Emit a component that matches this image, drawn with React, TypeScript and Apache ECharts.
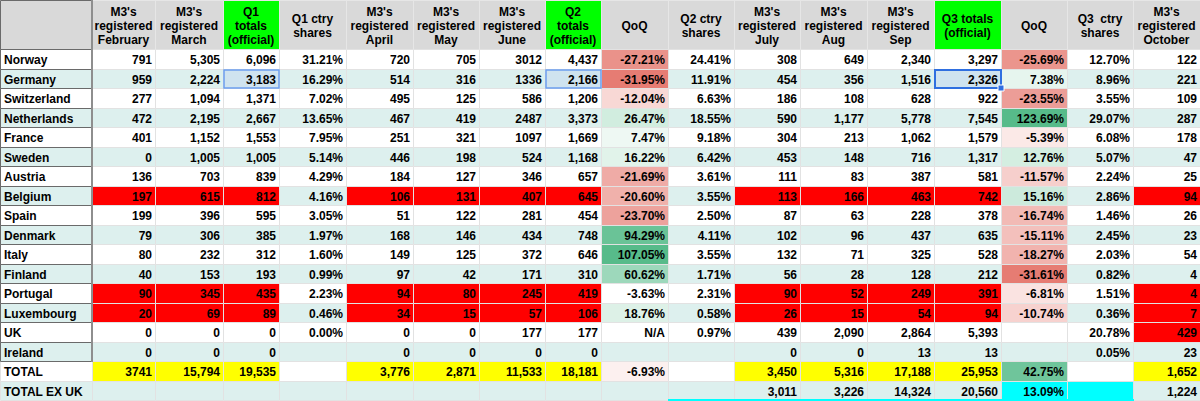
import React, { useEffect, useRef } from "react";
import * as echarts from "echarts";

// ---------- DATA ----------
const headers = [
  "",
  "M3's\nregistered\nFebruary",
  "M3's\nregistered\nMarch",
  "Q1\ntotals\n(official)",
  "Q1 ctry\nshares",
  "M3's\nregistered\nApril",
  "M3's\nregistered\nMay",
  "M3's\nregistered\nJune",
  "Q2\ntotals\n(official)",
  "QoQ",
  "Q2 ctry\nshares",
  "M3's\nregistered\nJuly",
  "M3's\nregistered\nAug",
  "M3's\nregistered\nSep",
  "Q3 totals\n(official)",
  "QoQ",
  "Q3  ctry\nshares",
  "M3's\nregistered\nOctober",
];

const rowLabels = ["Norway", "Germany", "Switzerland", "Netherlands", "France", "Sweden", "Austria", "Belgium", "Spain", "Denmark", "Italy", "Finland", "Portugal", "Luxembourg", "UK", "Ireland", "TOTAL", "TOTAL EX UK"];

const february = ["791", "959", "277", "472", "401", "0", "136", "197", "199", "79", "80", "40", "90", "20", "0", "0", "3741", ""];
const march = ["5,305", "2,224", "1,094", "2,195", "1,152", "1,005", "703", "615", "396", "306", "232", "153", "345", "69", "0", "0", "15,794", ""];
const q1Totals = ["6,096", "3,183", "1,371", "2,667", "1,553", "1,005", "839", "812", "595", "385", "312", "193", "435", "89", "0", "0", "19,535", ""];
const q1Shares = ["31.21%", "16.29%", "7.02%", "13.65%", "7.95%", "5.14%", "4.29%", "4.16%", "3.05%", "1.97%", "1.60%", "0.99%", "2.23%", "0.46%", "0.00%", "", "", ""];
const april = ["720", "514", "495", "467", "251", "446", "184", "106", "51", "168", "149", "97", "94", "34", "0", "0", "3,776", ""];
const may = ["705", "316", "125", "419", "321", "198", "127", "131", "122", "146", "125", "42", "80", "15", "0", "0", "2,871", ""];
const june = ["3012", "1336", "586", "2487", "1097", "524", "346", "407", "281", "434", "372", "171", "245", "57", "177", "0", "11,533", ""];
const q2Totals = ["4,437", "2,166", "1,206", "3,373", "1,669", "1,168", "657", "645", "454", "748", "646", "310", "419", "106", "177", "0", "18,181", ""];
const q2QoQ = ["-27.21%", "-31.95%", "-12.04%", "26.47%", "7.47%", "16.22%", "-21.69%", "-20.60%", "-23.70%", "94.29%", "107.05%", "60.62%", "-3.63%", "18.76%", "N/A", "", "-6.93%", ""];
const q2Shares = ["24.41%", "11.91%", "6.63%", "18.55%", "9.18%", "6.42%", "3.61%", "3.55%", "2.50%", "4.11%", "3.55%", "1.71%", "2.31%", "0.58%", "0.97%", "", "", ""];
const july = ["308", "454", "186", "590", "304", "453", "111", "113", "87", "102", "132", "56", "90", "26", "439", "0", "3,450", "3,011"];
const august = ["649", "356", "108", "1,177", "213", "148", "83", "166", "63", "96", "71", "28", "52", "15", "2,090", "0", "5,316", "3,226"];
const september = ["2,340", "1,516", "628", "5,778", "1,062", "716", "387", "463", "228", "437", "325", "128", "249", "54", "2,864", "13", "17,188", "14,324"];
const q3Totals = ["3,297", "2,326", "922", "7,545", "1,579", "1,317", "581", "742", "378", "635", "528", "212", "391", "94", "5,393", "13", "25,953", "20,560"];
const q3QoQ = ["-25.69%", "7.38%", "-23.55%", "123.69%", "-5.39%", "12.76%", "-11.57%", "15.16%", "-16.74%", "-15.11%", "-18.27%", "-31.61%", "-6.81%", "-10.74%", "", "", "42.75%", "13.09%"];
const q3Shares = ["12.70%", "8.96%", "3.55%", "29.07%", "6.08%", "5.07%", "2.24%", "2.86%", "1.46%", "2.45%", "2.03%", "0.82%", "1.51%", "0.36%", "20.78%", "0.05%", "", ""];
const october = ["122", "221", "109", "287", "178", "47", "25", "94", "26", "23", "54", "4", "4", "7", "429", "23", "1,652", "1,224"];

const columns = [rowLabels, february, march, q1Totals, q1Shares, april, may, june, q2Totals, q2QoQ, q2Shares, july, august, september, q3Totals, q3QoQ, q3Shares, october];

// ---------- LAYOUT / STYLE ----------
const columnWidths = [92, 63, 68, 56, 67, 67, 66, 66, 56, 67, 66, 66, 67, 67, 67, 66, 66, 67];
const headerHeight = 49;
const rowHeight = 19.5;
const W = 1200;
const H = 401;

const colEdges: number[] = [0];
columnWidths.forEach((w) => colEdges.push(colEdges[colEdges.length - 1] + w));
const rowEdges: number[] = [0, headerHeight];
rowLabels.forEach((_, i) => rowEdges.push(Math.round(headerHeight + (i + 1) * rowHeight)));

const FONT = 'bold 12px "Liberation Sans", Arial, sans-serif';
const WHITE = "#ffffff";
const TEAL = "#ddf0ee";
const HEADER_BG = "#d9d9d9";
const GREEN = "#00ff00";
const RED = "#ff0000";
const YELLOW = "#ffff00";
const CYAN = "#00ffff";
const GRID = "#e2e2e2";
const SEL_FILL = "#cfe3ef";

const countCols = [1, 2, 3, 5, 6, 7, 8, 11, 12, 13, 14, 17];
const totalCols = [3, 8, 14];
const redRows = ["Belgium", "Portugal", "Luxembourg"];

const num = (s: string) => parseFloat(s.replace(/[,%]/g, ""));

function mix(a: number[], t: number) {
  const c = a.map((v) => Math.round(255 + (v - 255) * t));
  return `rgb(${c[0]},${c[1]},${c[2]})`;
}
const LOW = [230, 124, 115];
const HIGH = [87, 187, 138];
function scaleColor(v: number, min: number, mid: number, max: number) {
  if (v <= mid) return mix(LOW, Math.min(1, (mid - v) / (mid - min || 1)));
  return mix(HIGH, Math.min(1, (v - mid) / (max - mid || 1)));
}
function stats(arr: string[]) {
  const vals = arr.map(num).filter((v) => !isNaN(v)).sort((a, b) => a - b);
  const n = vals.length;
  const med = n % 2 ? vals[(n - 1) / 2] : (vals[n / 2 - 1] + vals[n / 2]) / 2;
  return { min: vals[0], med, max: vals[n - 1] };
}
const q2Stats = stats(q2QoQ.slice(0, 17));
const q3Stats = stats(q3QoQ.slice(0, 17));
const q2Scale = (v: number) => scaleColor(v, q2Stats.min, q2Stats.med, q2Stats.max);
const q3Scale = (v: number) => scaleColor(v, q3Stats.min, 0, 50);

function cellFill(col: number, r: number): string {
  const label = rowLabels[r];
  const base = r % 2 === 0 ? WHITE : TEAL;
  if (label === "TOTAL EX UK" && (col === 15 || col === 16)) return CYAN;
  if (label === "Germany" && totalCols.includes(col)) return SEL_FILL;
  if (redRows.includes(label) && countCols.includes(col)) return RED;
  if (label === "UK" && col === 17) return RED;
  if (label === "TOTAL" && countCols.includes(col)) return YELLOW;
  if (col === 9) {
    const v = num(q2QoQ[r]);
    if (!isNaN(v)) return q2Scale(v);
  }
  if (col === 15) {
    const v = num(q3QoQ[r]);
    if (!isNaN(v)) return q3Scale(v);
  }
  return base;
}

const cells: number[][] = [];
for (let row = 0; row <= rowLabels.length; row++) {
  for (let col = 0; col < columns.length; col++) cells.push([col, row]);
}

export default function App() {
  const ref = useRef<HTMLDivElement>(null);
  useEffect(() => {
    document.body.style.margin = "0";
    if (!ref.current) return;
    const chart = echarts.init(ref.current, undefined, { renderer: "svg" });
    chart.setOption({
      animation: false,
      grid: { left: 0, right: 0, top: 0, bottom: 0 },
      xAxis: { type: "value", min: 0, max: W, show: false },
      yAxis: { type: "value", min: 0, max: H, inverse: true, show: false },
      series: [
        {
          type: "custom",
          silent: true,
          clip: false,
          data: cells,
          renderItem: (_params: any, api: any) => {
            const col = api.value(0) as number;
            const row = api.value(1) as number;
            const a = api.coord([colEdges[col], rowEdges[row]]);
            const b = api.coord([colEdges[col + 1], rowEdges[row + 1]]);
            const x0 = Math.round(a[0]);
            const x1 = Math.round(b[0]);
            const y0 = Math.round(Math.min(a[1], b[1]));
            const y1 = Math.round(Math.max(a[1], b[1]));
            const children: any[] = [];
            const isHeader = row === 0;
            const r = row - 1;
            const fill = isHeader ? (totalCols.includes(col) ? GREEN : HEADER_BG) : cellFill(col, r);
            children.push({
              type: "rect",
              z2: 0,
              shape: { x: x0 + 0.5, y: y0 + 0.5, width: x1 - x0, height: y1 - y0 },
              style: { fill, stroke: isHeader ? "#e6e6e6" : GRID, lineWidth: 1 },
            });
            const text = isHeader ? headers[col] : columns[col][r];
            if (text) {
              const left = col === 0;
              children.push({
                type: "text",
                z2: 5,
                style: {
                  text,
                  x: isHeader ? (x0 + x1) / 2 : left ? x0 + 4 : x1 - 3,
                  y: (y0 + y1) / 2 + 1,
                  align: isHeader ? "center" : left ? "left" : "right",
                  verticalAlign: "middle",
                  font: FONT,
                  fill: "#000000",
                  lineHeight: 14,
                },
              });
            }
            // frozen-column frame
            if (col === 0 && row <= 16) {
              children.push({
                type: "rect",
                z2: 8,
                shape: { x: x0 + 0.5, y: y0 + 0.5, width: x1 - x0 - 1, height: y1 - y0 },
                style: { fill: "none", stroke: "#6a6a6a", lineWidth: 1 },
              });
              children.push({
                type: "line",
                z2: 9,
                shape: { x1: x1, y1: y0, x2: x1, y2: y1 + 1 },
                style: { stroke: "#8e8e8e", lineWidth: 2 },
              });
            }
            // selected cells
            if (!isHeader && rowLabels[r] === "Germany" && totalCols.includes(col)) {
              const active = col === 14;
              children.push({
                type: "rect",
                z2: 10,
                shape: { x: x0 + 1, y: y0 + 1, width: x1 - x0 - 1, height: y1 - y0 - 1 },
                style: { fill: "none", stroke: active ? "#2f6fe0" : "#6c9ff0", lineWidth: active ? 2 : 1.5 },
              });
              if (active) {
                children.push({
                  type: "rect",
                  z2: 11,
                  shape: { x: x1 - 3, y: y1 - 3, width: 6, height: 6 },
                  style: { fill: "#2f6fe0", stroke: "#ffffff", lineWidth: 1 },
                });
              }
            }
            if (!isHeader && rowLabels[r] === "TOTAL EX UK" && col >= 10 && col <= 16) {
              children.push({
                type: "line",
                z2: 10,
                shape: { x1: x0, y1: H - 1, x2: x1 + 1, y2: H - 1 },
                style: { stroke: CYAN, lineWidth: 2 },
              });
            }
            return { type: "group", children };
          },
        },
      ],
    });
    return () => chart.dispose();
  }, []);
  return <div ref={ref} style={{ width: W, height: H }} />;
}
